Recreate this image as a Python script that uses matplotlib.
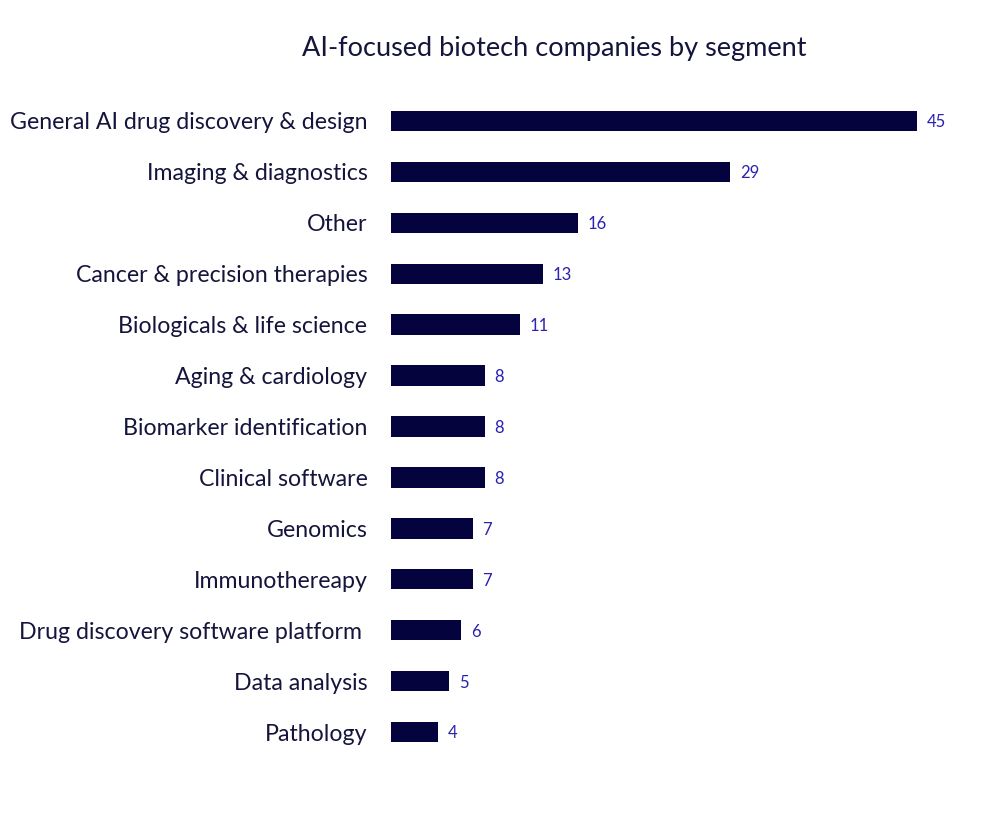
import matplotlib
matplotlib.use("Agg")
import matplotlib.pyplot as plt

# segment counts, top to bottom
segments = [
    "General AI drug discovery & design",
    "Imaging & diagnostics",
    "Other",
    "Cancer & precision therapies",
    "Biologicals & life science",
    "Aging & cardiology",
    "Biomarker identification",
    "Clinical software",
    "Genomics",
    "Immunothereapy",
    "Drug discovery software platform ",
    "Data analysis",
    "Pathology",
]
counts = [45, 29, 16, 13, 11, 8, 8, 8, 7, 7, 6, 5, 4]

bar_color = "#05033d"
text_color = "#14143c"
value_color = "#2a22b0"

plt.rcParams['font.family'] = ['Lato', 'DejaVu Sans']

fig = plt.figure(figsize=(10, 8.33), dpi=100)
ax = fig.add_axes([0.391, 0.0906, 0.526, 0.7948])

ypos = list(range(len(segments)))
ax.barh(ypos, counts, height=0.4, color=bar_color)
ax.set_ylim(len(segments) - 0.5, -0.5)
ax.set_xlim(0, 45)

ax.set_yticks(ypos)
ax.set_yticklabels(segments, fontsize=16.7, color=text_color)
ax.tick_params(axis='y', length=0, pad=17)
ax.set_xticks([])
for s in ax.spines.values():
    s.set_visible(False)

for y, v in zip(ypos, counts):
    ax.annotate(str(v), (v, y), xytext=(7, -1), textcoords='offset points',
                va='center', ha='left', fontsize=12, color=value_color,
                annotation_clip=False)

fig.text(0.554, 0.942, "AI-focused biotech companies by segment",
         ha='center', va='center', fontsize=19.5, color=text_color)

fig.savefig("out.png", dpi=100)
